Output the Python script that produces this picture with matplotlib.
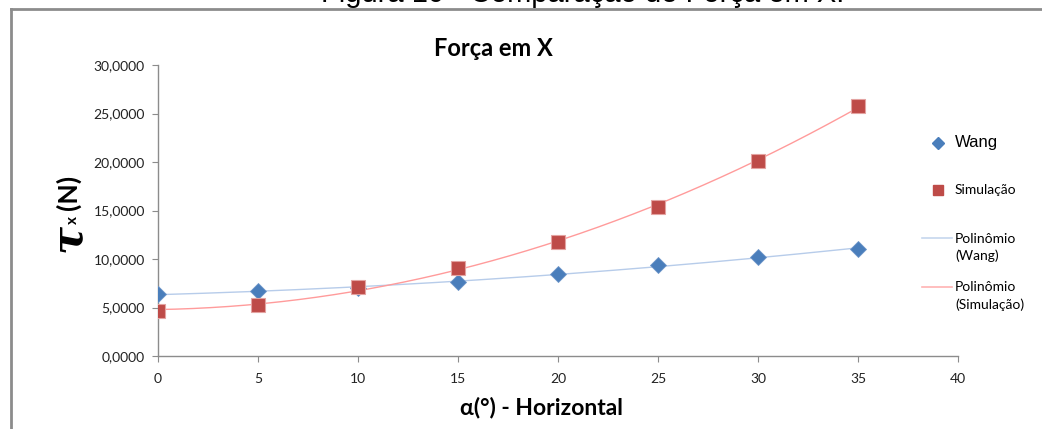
import matplotlib.pyplot as plt
import numpy as np
from matplotlib.lines import Line2D

# angle (graus) e forças medidas
alpha = [0, 5, 10, 15, 20, 25, 30, 35]
wang = [6.39, 6.70, 7.00, 7.60, 8.45, 9.38, 10.20, 11.03]
simulacao = [4.67, 5.26, 7.10, 9.04, 11.75, 15.36, 20.13, 25.80]

x_ticks = [0, 5, 10, 15, 20, 25, 30, 35, 40]
y_ticks = [0, 5, 10, 15, 20, 25, 30]

W, H = 1042, 429
fig = plt.figure(figsize=(W / 100, H / 100), dpi=100)
ax = fig.add_axes([158 / W, 1 - 356 / H, 800 / W, 291 / H])

blue = '#4A7EBB'
red = '#BE4B48'

# linhas de tendência polinomiais (grau 2)
xs = np.linspace(0, 35, 200)
fit_w = np.poly1d(np.polyfit(alpha, wang, 2))
fit_s = np.poly1d(np.polyfit(alpha, simulacao, 2))
ax.plot(xs, fit_w(xs), color='#B7CCEA', lw=1.0, zorder=2)
ax.plot(xs, fit_s(xs), color='#FF9B9B', lw=1.0, zorder=2)

ax.plot(alpha, wang, ls='', marker='D', ms=8, color=blue, mec='#6C94C8', mew=0.6, zorder=3)
ax.plot(alpha, simulacao, ls='', marker='s', ms=10.5, color=red, mec='#E3A3A1', mew=0.8, zorder=4)

ax.set_xlim(0, 40)
ax.set_ylim(0, 30)
ax.set_xticks(x_ticks)
ax.set_yticks(y_ticks)
ax.set_yticklabels(['%d,0000' % v for v in y_ticks])
for s in ['top', 'right']:
    ax.spines[s].set_visible(False)
for s in ['left', 'bottom']:
    ax.spines[s].set_color('#8C8C8C')
    ax.spines[s].set_linewidth(1.0)
ax.tick_params(axis='both', direction='out', length=4, width=0.8, color='#8C8C8C',
               labelsize=10, labelcolor='#222222')
ax.tick_params(axis='y', pad=5.5)
ax.tick_params(axis='x', pad=8)
for lab in ax.get_xticklabels() + ax.get_yticklabels():
    lab.set_family('Lato')

# títulos
fig.text(493 / W, 1 - 48 / H, 'Força em X', ha='center', va='center',
         fontsize=17, fontweight='bold', family='Lato')
fig.text(541 / W, 1 - 408 / H, 'α(°) - Horizontal', ha='center', va='center',
         fontsize=16.5, fontweight='bold', family='Lato')

# rótulo do eixo y: τx (N)
fig.text(69 / W, 1 - 238 / H, 'τ', ha='center', va='center', rotation=90,
         fontsize=30, fontweight='bold', style='italic', family='DejaVu Serif')
fig.text(73 / W, 1 - 220 / H, 'x', ha='center', va='center', rotation=90,
         fontsize=11, fontweight='bold', family='Lato')
fig.text(68 / W, 1 - 192 / H, '(N)', ha='center', va='center', rotation=90,
         fontsize=19, fontweight='bold', family='Lato')

# legenda
fig.add_artist(Line2D([938 / W], [1 - 143 / H], marker='D', ms=6.5, color=blue, ls=''))
fig.text(955 / W, 1 - 142 / H, 'Wang', va='center', fontsize=12, family='Liberation Sans')
fig.add_artist(Line2D([938 / W], [1 - 190 / H], marker='s', ms=7, color=red, ls=''))
fig.text(955 / W, 1 - 190 / H, 'Simulação', va='center', fontsize=10, family='Lato')
fig.add_artist(Line2D([922 / W, 952 / W], [1 - 238 / H] * 2, color='#C6D7EE', lw=1.2))
fig.text(955 / W, 1 - 247.5 / H, 'Polinômio\n(Wang)', va='center', fontsize=10,
         family='Lato', linespacing=1.45)
fig.add_artist(Line2D([922 / W, 952 / W], [1 - 287 / H] * 2, color='#FFB3B3', lw=1.2))
fig.text(955 / W, 1 - 296 / H, 'Polinômio\n(Simulação)', va='center', fontsize=10,
         family='Lato', linespacing=1.45)

# moldura do gráfico
fig.add_artist(Line2D([11 / W, 1], [1 - 9 / H] * 2, color='#8C8C8C', lw=2))
fig.add_artist(Line2D([11 / W] * 2, [0, 1 - 9 / H], color='#8C8C8C', lw=2))

# legenda da figura (cortada no topo)
fig.text(583 / W, 1 - 2.5 / H, 'Figura 10 - Comparação de Força em X.', ha='center',
         va='baseline', fontsize=21, family='Liberation Sans')

fig.savefig('out.png', dpi=100)
